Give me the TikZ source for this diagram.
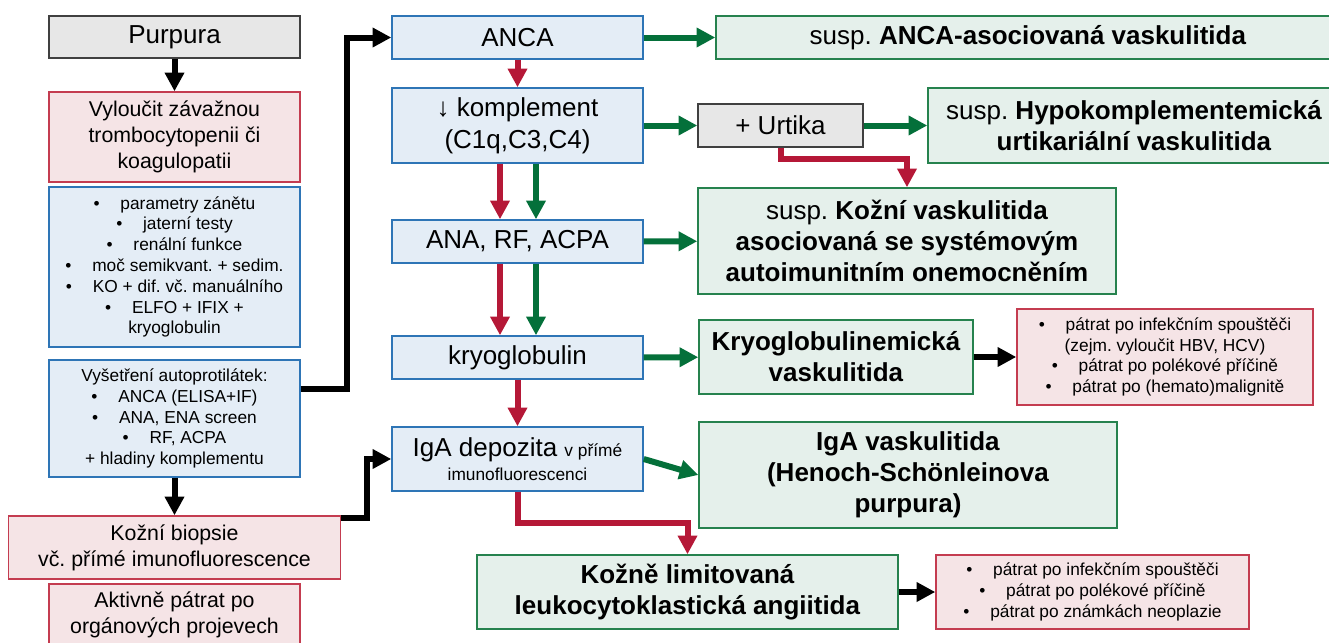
\documentclass[tikz,border=0pt]{standalone}
\usepackage{fontspec}
\setmainfont{Liberation Sans}
\usetikzlibrary{arrows.meta,calc}
\frenchspacing

\newcommand{\pbul}{\textbullet\hspace{1.2em}}

\begin{document}
\begin{tikzpicture}[x=0.75pt,y=0.75pt,yscale=-1,xscale=1,
        box/.style={rectangle, line width=1.1pt, inner sep=0pt, align=center, font=\fontsize{19.5}{23.8}\selectfont},
        bluebox/.style={box, draw={rgb, 255:red, 46; green, 117; blue, 182 }, fill={rgb, 255:red, 228; green, 237; blue, 246 }},
        pinkbox/.style={box, draw={rgb, 255:red, 196; green, 60; blue, 80 }, fill={rgb, 255:red, 245; green, 228; blue, 230 }},
        greenbox/.style={box, draw={rgb, 255:red, 38; green, 130; blue, 78 }, fill={rgb, 255:red, 229; green, 240; blue, 235 }, font=\fontsize{19.5}{23.2}\selectfont},
        graybox/.style={box, draw={rgb, 255:red, 64; green, 64; blue, 64 }, fill={rgb, 255:red, 231; green, 231; blue, 231 }},
        midtext/.style={font=\fontsize{16}{19.5}\selectfont},
        listtext/.style={font=\fontsize{13}{15.6}\selectfont},
        arr/.style={line width=4.5pt, -{Triangle[length=14pt,width=14pt]}},
        blackarr/.style={arr, draw=black},
        redarr/.style={arr, draw={rgb, 255:red, 181; green, 24; blue, 55 }},
        greenarr/.style={arr, draw={rgb, 255:red, 4; green, 112; blue, 58 }}]
        %set diagram size 1329 x 643
        \useasboundingbox (0,0) rectangle (1329,643);

        %Shape: Rectangle [id:purpura]
        \node[graybox, minimum width=188.25pt, minimum height=31.5pt] (purpura) at (174.5,37) {Purpura};
        %Shape: Rectangle [id:vyloucit]
        \node[pinkbox, midtext, minimum width=188.25pt, minimum height=67.5pt] (vyloucit) at (174.5,137) {Vyloučit závažnou\\trombocytopenii či\\koagulopatii};
        %Shape: Rectangle [id:testy]
        \node[bluebox, listtext, minimum width=188.25pt, minimum height=120pt] (testy) at (174.5,267) {\pbul parametry zánětu\\\pbul jaterní testy\\\pbul renální funkce\\\pbul moč semikvant. + sedim.\\\pbul KO + dif. vč. manuálního\\\pbul ELFO + IFIX +\\kryoglobulin};
        %Shape: Rectangle [id:autoprot]
        \node[bluebox, listtext, minimum width=188.25pt, minimum height=87.75pt] (autoprot) at (174.5,418.5) {Vyšetření autoprotilátek:\\\pbul ANCA (ELISA+IF)\\\pbul ANA, ENA screen\\\pbul RF, ACPA\\+ hladiny komplementu};
        %Shape: Rectangle [id:biopsie]
        \node[pinkbox, midtext, minimum width=249pt, minimum height=47.25pt] (biopsie) at (174.5,547.5) {Kožní biopsie\\vč. přímé imunofluorescence};
        %Shape: Rectangle [id:aktivne]
        \node[pinkbox, midtext, minimum width=188.25pt, minimum height=45.75pt] (aktivne) at (174.5,614.5) {Aktivně pátrat po\\orgánových projevech};

        %Shape: Rectangle [id:anca]
        \node[bluebox, minimum width=188.25pt, minimum height=32.25pt] (anca) at (517.5,37.5) {ANCA};
        %Shape: Rectangle [id:kompl]
        \node[bluebox, minimum width=188.25pt, minimum height=56.25pt] (kompl) at (517.5,125.5) {↓ komplement\\(C1q,C3,C4)};
        %Shape: Rectangle [id:ana]
        \node[bluebox, minimum width=188.25pt, minimum height=32.25pt] (ana) at (517.5,241.5) {ANA, RF, ACPA};
        %Shape: Rectangle [id:kryo]
        \node[bluebox, minimum width=188.25pt, minimum height=32.25pt] (kryo) at (517.5,357.5) {kryoglobulin};
        %Shape: Rectangle [id:igadep]
        \node[bluebox, minimum width=188.25pt, minimum height=48pt] (igadep) at (517.5,459) {IgA depozita {\fontsize{13}{17}\selectfont v přímé}\\[-6pt]{\fontsize{13}{17}\selectfont imunofluorescenci}};

        %Shape: Rectangle [id:urtika]
        \node[graybox, minimum width=123.75pt, minimum height=32.25pt] (urtika) at (780.5,125.5) {+ Urtika};
        %Shape: Rectangle [id:suspanca]
        \node[greenbox, minimum width=468pt, minimum height=32.25pt] (suspanca) at (1028,37.5) {susp. \textbf{ANCA-asociovaná vaskulitida}};
        %Shape: Rectangle [id:hypo]
        \node[greenbox, minimum width=309pt, minimum height=56.25pt] (hypo) at (1134,125.5) {susp. \textbf{Hypokomplementemická}\\\textbf{urtikariální vaskulitida}};
        %Shape: Rectangle [id:suspkozni]
        \node[greenbox, minimum width=313.5pt, minimum height=79.5pt] (suspkozni) at (907,241) {susp. \textbf{Kožní vaskulitida}\\\textbf{asociovaná se systémovým}\\\textbf{autoimunitním onemocněním}};
        %Shape: Rectangle [id:kryovask]
        \node[greenbox, minimum width=205.5pt, minimum height=55.5pt] (kryovask) at (836,357) {\textbf{Kryoglobulinemická}\\\textbf{vaskulitida}};
        %Shape: Rectangle [id:igavask]
        \node[greenbox, minimum width=313.5pt, minimum height=79.5pt] (igavask) at (908,475) {\textbf{IgA vaskulitida}\\\textbf{(Henoch-Schönleinova}\\\textbf{purpura)}};
        %Shape: Rectangle [id:kozne]
        \node[greenbox, minimum width=315.75pt, minimum height=55.5pt] (kozne) at (687.5,592) {\textbf{Kožně limitovaná}\\\textbf{leukocytoklastická angiitida}};
        %Shape: Rectangle [id:patrat1]
        \node[pinkbox, listtext, minimum width=222pt, minimum height=72pt] (patrat1) at (1165,357) {\pbul pátrat po infekčním spouštěči\\(zejm. vyloučit HBV, HCV)\\\pbul pátrat po polékové příčině\\\pbul pátrat po (hemato)malignitě};
        %Shape: Rectangle [id:patrat2]
        \node[pinkbox, listtext, minimum width=234.75pt, minimum height=55.5pt] (patrat2) at (1092.5,592) {\pbul pátrat po infekčním spouštěči\\\pbul pátrat po polékové příčině\\\pbul pátrat po známkách neoplazie};

        %Straight Lines [id:black]
        \draw[blackarr] (purpura) -- (vyloucit);
        \draw[blackarr] (autoprot) -- (biopsie);
        \draw[blackarr] ($(autoprot.east)+(0,-29.5)$) -- ++(46,0) |- (anca.west);
        \draw[blackarr] ($(biopsie.east)+(0,-29.5)$) -- ++(26,0) |- (igadep.west);
        \draw[blackarr] (kryovask) -- (patrat1);
        \draw[blackarr] (kozne) -- (patrat2);

        %Straight Lines [id:red]
        \draw[redarr] (anca) -- (kompl);
        \draw[redarr] ($(kompl.south)+(-17.5,0)$) -- ($(ana.north)+(-17.5,0)$);
        \draw[redarr] ($(ana.south)+(-17.5,0)$) -- ($(kryo.north)+(-17.5,0)$);
        \draw[redarr] (kryo) -- (igadep);
        \draw[redarr] (urtika.south) -- ++(0,11) -| (suspkozni.north);
        \draw[redarr] (igadep.south) -- ++(0,31) -| (kozne.north);

        %Straight Lines [id:green]
        \draw[greenarr] (anca) -- (suspanca);
        \draw[greenarr] (kompl) -- (urtika);
        \draw[greenarr] (urtika) -- (hypo);
        \draw[greenarr] ($(kompl.south)+(18.5,0)$) -- ($(ana.north)+(18.5,0)$);
        \draw[greenarr] ($(ana.south)+(18.5,0)$) -- ($(kryo.north)+(18.5,0)$);
        \draw[greenarr] (ana) -- (suspkozni);
        \draw[greenarr] (kryo) -- (kryovask);
        \draw[greenarr] (igadep.east) -- (igavask.west);
\end{tikzpicture}
\end{document}
